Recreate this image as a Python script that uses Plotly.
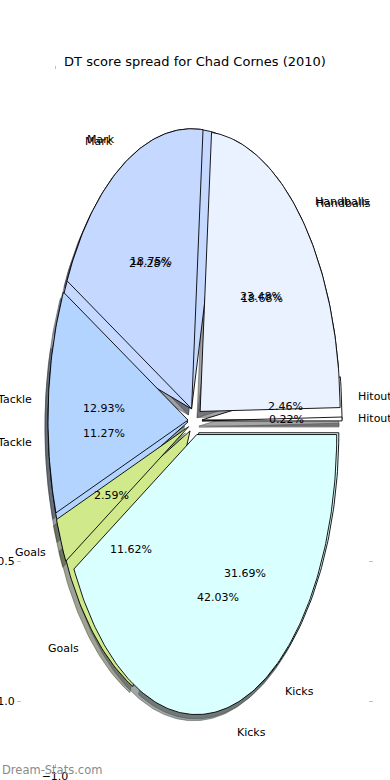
import numpy as np
import plotly.graph_objects as go

# ---- data ----
categories = ["Hitout", "Handballs", "Mark", "Tackle", "Goals", "Kicks"]
share_pie_a = [2.46, 18.68, 24.28, 11.27, 11.62, 31.69]
share_pie_b = [0.22, 23.48, 18.75, 12.93, 2.59, 42.03]
y_tick_vals = [-1.0, -0.5]
y_tick_text = ["\u22121.0", "\u22120.5"]
x_tick_vals = [-1.0]
x_tick_text = ["\u22121.0"]

# ---- style ----
wedge_colors = ["#ffffff", "#eaf1ff", "#c5d8ff", "#b3d4ff", "#cfe98b", "#d9ffff"]
EXPLODE = 0.05
LABEL_DIST = 1.1
PCT_DIST = 0.6
SHADOW_OFF = -0.022
FONT = "DejaVu Sans"


def hex_rgb(h):
    h = h.lstrip("#")
    return tuple(int(h[i:i + 2], 16) for i in (0, 2, 4))


def wedges(values):
    vals = np.asarray(values, dtype=float)
    frac = vals / vals.sum()
    ends = np.cumsum(frac) * 360.0
    starts = np.concatenate([[0.0], ends[:-1]])
    out = []
    for s, e in zip(starts, ends):
        mid = np.deg2rad((s + e) / 2.0)
        cx, cy = EXPLODE * np.cos(mid), EXPLODE * np.sin(mid)
        n = max(int(e - s) + 2, 3)
        t = np.deg2rad(np.linspace(s, e, n))
        xs = np.concatenate([[cx], cx + np.cos(t), [cx]])
        ys = np.concatenate([[cy], cy + np.sin(t), [cy]])
        out.append((xs, ys, mid, cx, cy))
    return out


pies = [wedges(share_pie_a), wedges(share_pie_b)]
values_all = [share_pie_a, share_pie_b]

fig = go.Figure()

# shadows (drawn beneath all wedges)
for pie in pies:
    for i, (xs, ys, mid, cx, cy) in enumerate(pie):
        r, g, b = hex_rgb(wedge_colors[i])
        col = f"rgba({int(r*0.3)},{int(g*0.3)},{int(b*0.3)},0.5)"
        fig.add_trace(go.Scatter(x=xs + SHADOW_OFF, y=ys + SHADOW_OFF, mode="lines",
                                 fill="toself", fillcolor=col,
                                 line=dict(color=col, width=1),
                                 hoverinfo="skip", showlegend=False))

# wedges
for pie in pies:
    for i, (xs, ys, mid, cx, cy) in enumerate(pie):
        fig.add_trace(go.Scatter(x=xs, y=ys, mode="lines", fill="toself",
                                 fillcolor=wedge_colors[i],
                                 line=dict(color="black", width=0.9),
                                 hoverinfo="skip", showlegend=False))

annotations = []
for pie, vals in zip(pies, values_all):
    for i, (xs, ys, mid, cx, cy) in enumerate(pie):
        lx = cx + LABEL_DIST * np.cos(mid)
        ly = cy + LABEL_DIST * np.sin(mid)
        annotations.append(dict(x=lx, y=ly, xref="x", yref="y", text=categories[i],
                                showarrow=False, xanchor="left" if lx > 0 else "right",
                                yanchor="middle", font=dict(family=FONT, size=11, color="black")))
        px_ = cx + PCT_DIST * np.cos(mid)
        py_ = cy + PCT_DIST * np.sin(mid)
        annotations.append(dict(x=px_, y=py_, xref="x", yref="y", text=f"{vals[i]:.2f}%",
                                showarrow=False, xanchor="center", yanchor="middle",
                                font=dict(family=FONT, size=11, color="black")))

W, H = 390, 780
L, R, T, B = 22, 22, 70, 17
xhalf = (W - L - R) / 2 / 140.0
y_top = (421 - T) / 280.0
y_bot = (421 - (H - B)) / 280.0
plot_h = H - T - B

annotations.append(dict(x=-L / (W - L - R), y=(H - B - 770) / plot_h, xref="paper", yref="paper",
                        text="Dream-Stats.com", showarrow=False, xanchor="left", yanchor="middle",
                        font=dict(family=FONT, size=11.5, color="#8a8a8a")))

fig.update_layout(
    width=W, height=H,
    margin=dict(l=L, r=R, t=T, b=B, autoexpand=False),
    paper_bgcolor="white", plot_bgcolor="white",
    title=dict(text="DT score spread for Chad Cornes (2010)", x=0.5, xanchor="center",
               xref="container", yref="container", y=1 - 61 / H, yanchor="middle",
               font=dict(family=FONT, size=13, color="black")),
    xaxis=dict(range=[-xhalf, xhalf], showgrid=False, zeroline=False, showline=False,
               automargin=False,
               tickvals=x_tick_vals, ticktext=x_tick_text, ticks="outside", ticklen=3,
               tickcolor="#c0c0c0", mirror="ticks", fixedrange=True,
               tickfont=dict(family=FONT, size=11, color="black")),
    yaxis=dict(range=[y_bot, y_top], showgrid=False, zeroline=False, showline=False,
               automargin=False,
               tickvals=y_tick_vals, ticktext=y_tick_text, ticks="outside", ticklen=4,
               tickcolor="#c0c0c0", mirror="ticks", fixedrange=True,
               tickfont=dict(family=FONT, size=11, color="black")),
    annotations=annotations,
    font=dict(family=FONT),
)

fig.write_html("out.html", config={"displayModeBar": False},
               post_script="document.body.style.margin='0';document.body.style.overflow='hidden';")
